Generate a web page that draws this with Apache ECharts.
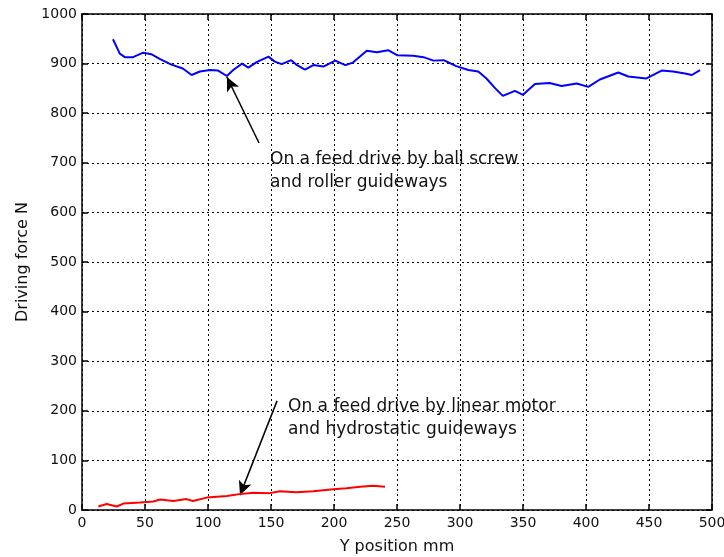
<!DOCTYPE html>
<html>
<head>
<meta charset="utf-8">
<script src="https://cdn.jsdelivr.net/npm/echarts@6/dist/echarts.min.js"></script>
<style>html,body{margin:0;padding:0;background:#fff;}#c{width:724px;height:557px;}</style>
</head>
<body>
<div id="c"></div>
<script>
// Ball screw + roller guideways (blue)
const ballX = [24.6,30,34,40.5,48.6,55,62,71,80,87,93.6,101.6,108,115,120,127,132,138.6,148,153,158.5,166,170,177,183.6,191.5,201,209,215,226,234,243,250,263,271,279,287,297,306.6,314.5,321,328,334,343.6,350,359.5,371,380.7,392.6,401.8,411,425.6,433.6,448,460,469,478.6,484,490.5];
const ballY = [949,920,913,913,922,919,909,898,890,877,884,887,886,875,887,900,892,903,914,904,899,907,898,888,897,894,906,897,902,926,923,927,917,916,913,906,907,895,887,884,870,850,835,845,837,859,861,855,860,853,868,882,874,870,886,884,880,877,887];
// Linear motor + hydrostatic guideways (red)
const linX = [13,19.6,27.5,32.8,46,56.6,62,72.5,83,88,99,115,125,136,149,157,170,183.6,199.5,210,220.6,231,240.5];
const linY = [7,12,7,13,15,17,21,18,22,18,25,28,32,35,34,38,36,38,42,44,47,49,47];
const xTicks = [0,50,100,150,200,250,300,350,400,450,500];
const yTicks = [0,100,200,300,400,500,600,700,800,900,1000];
const arrow1 = [[140.5,740],[115,873]];
const arrow2 = [[154.8,220],[125.4,30]];

const font = '"DejaVu Sans", Verdana, sans-serif';
const chart = echarts.init(document.getElementById('c'));
const grid = {type:[2,3], color:'#000', width:1};
const axisLine = {show:true, onZero:false, lineStyle:{color:'#000', width:1.5}};
const tick = {show:true, inside:true, length:6, lineStyle:{color:'#000', width:1.5}};
chart.setOption({
  animation:false,
  grid:{left:82, right:12, top:14, bottom:47, containLabel:false, outerBoundsMode:'none'},
  xAxis:[{
    type:'value', min:0, max:500, interval:50,
    axisLine:axisLine, axisTick:tick,
    axisLabel:{color:'#111', fontFamily:font, fontSize:14, margin:6, formatter:v=>String(v)},
    splitLine:{show:true, lineStyle:grid},
    name:'Y position mm', nameLocation:'middle', nameGap:29,
    nameTextStyle:{color:'#111', fontFamily:font, fontSize:16}
  },{
    type:'value', min:0, max:500, interval:50, position:'top',
    axisLine:axisLine, axisTick:tick,
    axisLabel:{show:false}, splitLine:{show:false}
  }],
  yAxis:[{
    type:'value', min:0, max:1000, interval:100,
    axisLine:axisLine, axisTick:tick,
    axisLabel:{color:'#111', fontFamily:font, fontSize:14, margin:5, formatter:v=>String(v)},
    splitLine:{show:true, lineStyle:grid},
    name:'Driving force N', nameLocation:'middle', nameGap:50,
    nameTextStyle:{color:'#111', fontFamily:font, fontSize:16}
  },{
    type:'value', min:0, max:1000, interval:100, position:'right',
    axisLine:axisLine, axisTick:tick,
    axisLabel:{show:false}, splitLine:{show:false}
  }],
  series:[{
    type:'line', data:ballX.map((x,i)=>[x,ballY[i]]), showSymbol:false,
    lineStyle:{color:'#0000ff', width:2}, z:5,
    markLine:{silent:true, symbol:['none','arrow'], symbolSize:[10,14],
      lineStyle:{color:'#000', width:1.5, type:'solid'}, label:{show:false},
      data:[[{coord:arrow1[0]},{coord:arrow1[1]}]]}
  },{
    type:'line', data:linX.map((x,i)=>[x,linY[i]]), showSymbol:false,
    lineStyle:{color:'#ff0000', width:2}, z:5,
    markLine:{silent:true, symbol:['none','arrow'], symbolSize:[10,14],
      lineStyle:{color:'#000', width:1.5, type:'solid'}, label:{show:false},
      data:[[{coord:arrow2[0]},{coord:arrow2[1]}]]}
  }],
  graphic:[
    {type:'text', left:270, top:148, style:{text:'On a feed drive by ball screw\nand roller guideways', font:'17px '+font, fill:'#111', lineHeight:23}},
    {type:'text', left:288, top:395, style:{text:'On a feed drive by linear motor\nand hydrostatic guideways', font:'17px '+font, fill:'#111', lineHeight:23}}
  ]
});
</script>
</body>
</html>
